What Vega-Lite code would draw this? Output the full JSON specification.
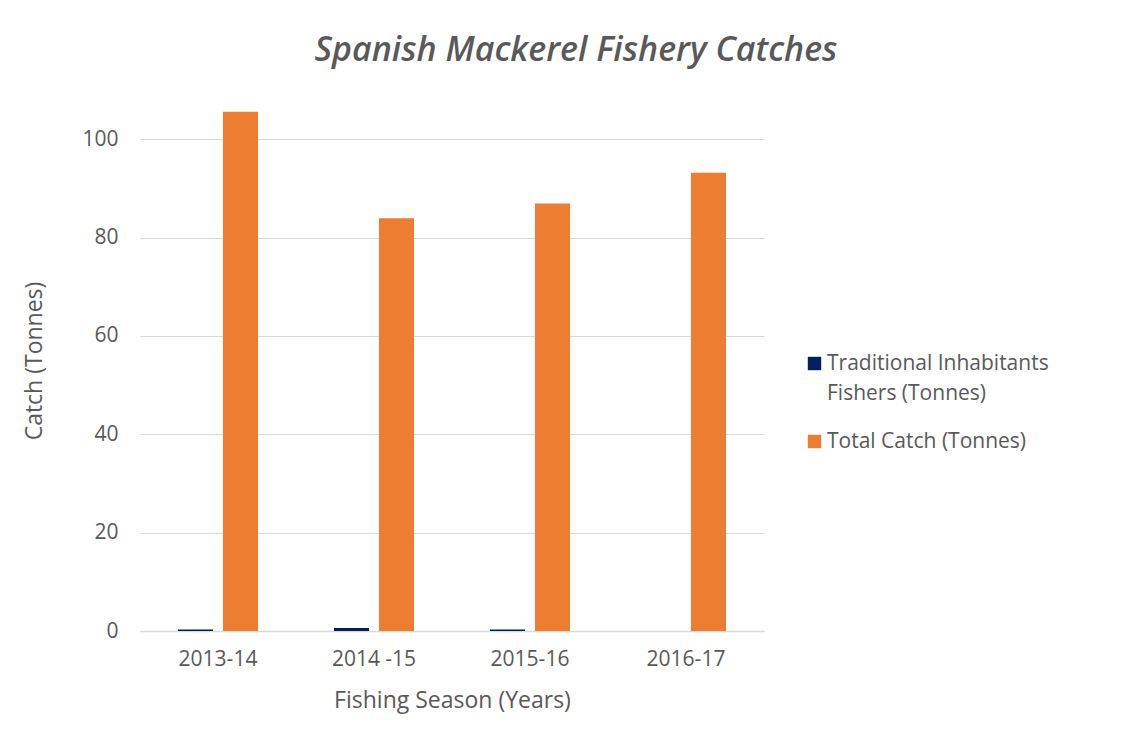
{
  "$schema": "https://vega.github.io/schema/vega-lite/v6.json",
  "autosize": "none",
  "width": 624,
  "height": 541,
  "padding": {"left": 140, "top": 90, "right": 372, "bottom": 111},
  "background": "white",
  "title": {
    "text": "Spanish Mackerel Fishery Catches",
    "font": "Open Sans",
    "fontSize": 34,
    "fontStyle": "italic",
    "fontWeight": 600,
    "color": "#595959",
    "anchor": "middle",
    "dx": 124,
    "dy": 30,
    "baseline": "alphabetic",
    "offset": 25
  },
  "data": {
    "values": [
      {"season": "2013-14", "series": "Traditional Inhabitants Fishers (Tonnes)", "catch": 0.3},
      {"season": "2013-14", "series": "Total Catch (Tonnes)", "catch": 105.6},
      {"season": "2014 -15", "series": "Traditional Inhabitants Fishers (Tonnes)", "catch": 0.6},
      {"season": "2014 -15", "series": "Total Catch (Tonnes)", "catch": 83.9},
      {"season": "2015-16", "series": "Traditional Inhabitants Fishers (Tonnes)", "catch": 0.3},
      {"season": "2015-16", "series": "Total Catch (Tonnes)", "catch": 86.9},
      {"season": "2016-17", "series": "Traditional Inhabitants Fishers (Tonnes)", "catch": 0},
      {"season": "2016-17", "series": "Total Catch (Tonnes)", "catch": 93.2}
    ]
  },
  "mark": {"type": "bar"},
  "encoding": {
    "x": {
      "field": "season",
      "type": "nominal",
      "sort": ["2013-14", "2014 -15", "2015-16", "2016-17"],
      "scale": {"paddingInner": 0.487, "paddingOuter": 0.2435},
      "axis": {
        "title": "Fishing Season (Years)",
        "labelAngle": 0,
        "labelFont": "Open Sans",
        "labelFontSize": 21,
        "labelColor": "#595959",
        "labelPadding": 17,
        "titleFont": "Open Sans",
        "titleFontSize": 23,
        "titleFontWeight": "normal",
        "titleColor": "#595959",
        "titlePadding": 20,
        "ticks": false,
        "domainColor": "#d9d9d9",
        "domainWidth": 1.5
      }
    },
    "xOffset": {
      "field": "series",
      "type": "nominal",
      "sort": ["Traditional Inhabitants Fishers (Tonnes)", "Total Catch (Tonnes)"],
      "scale": {"paddingInner": 0.222, "paddingOuter": 0}
    },
    "y": {
      "field": "catch",
      "type": "quantitative",
      "scale": {"domain": [0, 110], "nice": false},
      "axis": {
        "title": "Catch (Tonnes)",
        "values": [0, 20, 40, 60, 80, 100],
        "labelFont": "Open Sans",
        "labelFontSize": 21,
        "labelColor": "#595959",
        "labelPadding": 22,
        "titleFont": "Open Sans",
        "titleFontSize": 23,
        "titleFontWeight": "normal",
        "titleColor": "#595959",
        "titlePadding": 35,
        "ticks": false,
        "domain": false,
        "gridColor": "#d9d9d9",
        "gridWidth": 1
      }
    },
    "color": {
      "field": "series",
      "type": "nominal",
      "sort": ["Traditional Inhabitants Fishers (Tonnes)", "Total Catch (Tonnes)"],
      "scale": {"range": ["#002060", "#ED7D31"]},
      "legend": {
        "title": null,
        "orient": "none",
        "legendX": 664,
        "legendY": 263,
        "symbolType": "square",
        "symbolSize": 180,
        "symbolStrokeWidth": 0,
        "labelFont": "Open Sans",
        "labelFontSize": 21,
        "labelColor": "#595959",
        "labelOffset": 2,
        "labelLimit": 400,
        "rowPadding": 26,
        "labelExpr": "datum.label == 'Traditional Inhabitants Fishers (Tonnes)' ? ['Traditional Inhabitants', 'Fishers (Tonnes)'] : datum.label",
        "encode": {"labels": {"update": {"lineHeight": {"value": 30}}}}
      }
    }
  },
  "config": {
    "view": {"stroke": null}
  }
}
